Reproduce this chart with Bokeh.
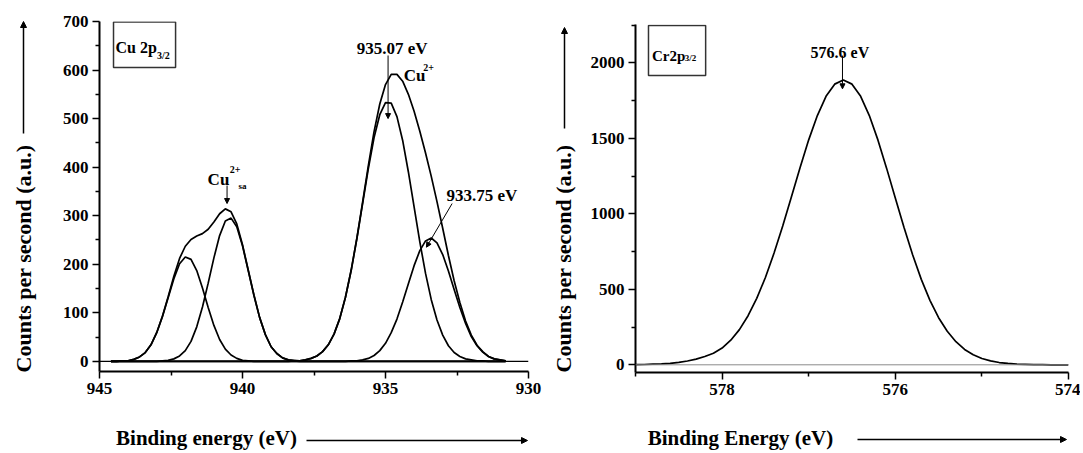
import math
from bokeh.plotting import figure
from bokeh.models import (Range1d, FixedTicker, Label, Arrow, NormalHead, Span,
                          BoxAnnotation, ColumnDataSource)
from bokeh.layouts import row, column
from bokeh.embed import file_html
from bokeh.resources import INLINE

# ---------------- data ----------------
# Cu 2p3/2 panel: binding energy grid (eV) and counts of each fitted curve
cu_energy = [944.6, 944.4, 944.2, 944.0, 943.8, 943.6, 943.4, 943.2, 943.0, 942.8,
             942.6, 942.4, 942.2, 942.0, 941.8, 941.6, 941.4, 941.2, 941.0, 940.8,
             940.6, 940.4, 940.2, 940.0, 939.8, 939.6, 939.4, 939.2, 939.0, 938.8,
             938.6, 938.4, 938.2, 938.0, 937.8, 937.6, 937.4, 937.2, 937.0, 936.8,
             936.6, 936.4, 936.2, 936.0, 935.8, 935.6, 935.4, 935.2, 935.0, 934.8,
             934.6, 934.4, 934.2, 934.0, 933.8, 933.6, 933.4, 933.2, 933.0, 932.8,
             932.6, 932.4, 932.2, 932.0, 931.8, 931.6, 931.4, 931.2, 931.0, 930.8]
cu_sat1 = [0, 0, 1, 1, 4, 9, 18, 34, 59, 92,
           131, 170, 201, 215, 210, 187, 151, 111, 74, 45,
           25, 13, 6, 2, 1, 0, 0, 0, 0, 0,
           0, 0, 0, 0, 0, 0, 0, 0, 0, 0,
           0, 0, 0, 0, 0, 0, 0, 0, 0, 0,
           0, 0, 0, 0, 0, 0, 0, 0, 0, 0,
           0, 0, 0, 0, 0, 0, 0, 0, 0, 0]
cu_sat2 = [0, 0, 0, 0, 0, 0, 0, 0, 0, 1,
           2, 5, 11, 22, 41, 71, 112, 161, 213, 259,
           289, 295, 277, 238, 187, 136, 90, 55, 30, 16,
           7, 3, 1, 0, 0, 0, 0, 0, 0, 0,
           0, 0, 0, 0, 0, 0, 0, 0, 0, 0,
           0, 0, 0, 0, 0, 0, 0, 0, 0, 0,
           0, 0, 0, 0, 0, 0, 0, 0, 0, 0]
cu_main = [0, 0, 0, 0, 0, 0, 0, 0, 0, 0,
           0, 0, 0, 0, 0, 0, 0, 0, 0, 0,
           0, 0, 0, 0, 0, 0, 0, 0, 0, 0,
           0, 0, 1, 1, 3, 6, 11, 20, 34, 56,
           88, 132, 187, 253, 325, 397, 461, 508, 533, 532,
           504, 455, 390, 318, 246, 181, 127, 85, 54, 32,
           18, 10, 5, 3, 1, 1, 0, 0, 0, 0]
cu_low = [0, 0, 0, 0, 0, 0, 0, 0, 0, 0,
          0, 0, 0, 0, 0, 0, 0, 0, 0, 0,
          0, 0, 0, 0, 0, 0, 0, 0, 0, 0,
          0, 0, 0, 0, 0, 0, 0, 0, 0, 0,
          0, 0, 1, 1, 3, 6, 12, 22, 37, 59,
          87, 122, 160, 197, 228, 248, 254, 244, 220, 186,
          148, 111, 78, 51, 32, 19, 10, 5, 3, 1]
cu_envelope = [0, 0, 1, 1, 4, 9, 18, 34, 59, 93,
               133, 175, 212, 237, 251, 258, 263, 272, 287, 304,
               314, 308, 283, 240, 188, 136, 90, 55, 30, 16,
               7, 3, 2, 1, 3, 6, 11, 20, 34, 56,
               88, 132, 188, 254, 328, 403, 473, 530, 570, 591,
               591, 577, 550, 515, 474, 429, 381, 329, 274, 218,
               166, 121, 83, 54, 33, 20, 10, 5, 3, 1]

cu_xticks = [945, 940, 935, 930]
cu_xminor = [942.5, 937.5, 932.5]
cu_yticks = [0, 100, 200, 300, 400, 500, 600, 700]
cu_yminor = [50, 150, 250, 350, 450, 550, 650]

# Cr 2p3/2 panel
cr_energy = [579.0, 578.9, 578.8, 578.7, 578.6, 578.5, 578.4, 578.3, 578.2, 578.1,
             578.0, 577.9, 577.8, 577.7, 577.6, 577.5, 577.4, 577.3, 577.2, 577.1,
             577.0, 576.9, 576.8, 576.7, 576.6, 576.5, 576.4, 576.3, 576.2, 576.1,
             576.0, 575.9, 575.8, 575.7, 575.6, 575.5, 575.4, 575.3, 575.2, 575.1,
             575.0, 574.9, 574.8, 574.7, 574.6, 574.5, 574.4, 574.3, 574.2, 574.1,
             574.0]
cr_counts = [1, 2, 4, 6, 10, 16, 25, 38, 55, 77,
             111, 163, 233, 325, 440, 578, 740, 920, 1112, 1305,
             1490, 1651, 1778, 1859, 1887, 1859, 1778, 1651, 1488, 1301,
             1105, 911, 729, 566, 427, 312, 222, 153, 102, 67,
             42, 26, 15, 9, 5, 3, 1, 1, 0, 0,
             0]

cr_xticks = [578, 576, 574]
cr_xminor = [579, 577, 575]
cr_yticks = [0, 500, 1000, 1500, 2000]
cr_yminor = [250, 750, 1250, 1750, 2250]

FONT = "Liberation Serif"


def style_axes(p, xt, xminor, yt, yminor):
    p.xaxis.ticker = FixedTicker(ticks=xt, minor_ticks=xminor)
    p.yaxis.ticker = FixedTicker(ticks=yt, minor_ticks=yminor)
    for ax in (p.xaxis, p.yaxis):
        ax.axis_line_width = 2
        ax.axis_line_color = "black"
        ax.major_tick_line_width = 1.5
        ax.major_tick_line_color = "black"
        ax.minor_tick_line_width = 1.5
        ax.minor_tick_line_color = "black"
        ax.major_tick_out = 7
        ax.major_tick_in = 0
        ax.minor_tick_out = 4
        ax.minor_tick_in = 0
        ax.major_label_text_font = FONT
        ax.major_label_text_font_style = "bold"
        ax.major_label_text_font_size = "17px"
        ax.major_label_text_color = "black"
        ax.major_label_standoff = 4
    p.xgrid.visible = False
    p.ygrid.visible = False
    p.outline_line_color = None
    p.background_fill_color = "white"
    p.border_fill_color = "white"


def lab(p, x, y, text, size, align="left", baseline="alphabetic", angle=0.0):
    p.add_layout(Label(x=x, y=y, text=text, text_font=FONT, text_font_style="bold",
                       text_font_size=size, text_color="black", text_align=align,
                       text_baseline=baseline, angle=angle))


def arr(p, x0, y0, x1, y1, size=6, width=1.2):
    p.add_layout(Arrow(end=NormalHead(size=size, fill_color="black", line_color="black",
                                      line_width=1),
                       x_start=x0, y_start=y0, x_end=x1, y_end=y1,
                       line_width=width, line_color="black"))


def blank(width, height, x0, x1, y_bottom, y_top):
    # empty plot (no axes) holding axis titles; ranges are in page pixels
    f = figure(width=width, height=height, x_range=Range1d(x0, x1),
               y_range=Range1d(y_bottom, y_top), x_axis_type=None, y_axis_type=None,
               output_backend="svg", toolbar_location=None, min_border=0)
    f.outline_line_color = None
    f.xgrid.visible = False
    f.ygrid.visible = False
    f.background_fill_color = "white"
    f.border_fill_color = "white"
    return f


LW = 1.7

# ---------------- left panel: Cu 2p3/2 ----------------
p1 = figure(frame_width=429, frame_height=350,
            x_range=Range1d(945, 930), y_range=Range1d(-21, 700),
            output_backend="svg", toolbar_location=None,
            min_border_left=49, min_border_right=17,
            min_border_top=21, min_border_bottom=35)
style_axes(p1, cu_xticks, cu_xminor, cu_yticks, cu_yminor)

src1 = ColumnDataSource(dict(e=cu_energy, s1=cu_sat1, s2=cu_sat2, m=cu_main,
                             l=cu_low, env=cu_envelope))
p1.add_layout(Span(location=0, dimension="width", line_color="black", line_width=1.2))
for col in ("s1", "s2", "m", "l", "env"):
    p1.line("e", col, source=src1, line_color="black", line_width=LW)

p1.add_layout(BoxAnnotation(left=944.51, right=942.34, bottom=605, top=699,
                            fill_alpha=0, line_color="#333333", line_alpha=1,
                            line_width=1.5))
lab(p1, 944.44, 646, "Cu 2p", "16px")
lab(p1, 942.99, 630, "3/2", "10px")

lab(p1, 934.77, 644, "935.07 eV", "17px", align="center")
arr(p1, 934.91, 630, 934.91, 500, size=5, width=1)
lab(p1, 934.36, 589, "Cu", "17px")
lab(p1, 933.68, 605, "2+", "10px")
lab(p1, 932.87, 342, "933.75 eV", "17px")
arr(p1, 932.67, 325, 933.57, 235, size=5, width=1)
lab(p1, 941.22, 375, "Cu", "17px")
lab(p1, 940.45, 395, "2+", "10px")
lab(p1, 940.14, 361, "sa", "9px")
arr(p1, 940.54, 362, 940.54, 325, size=5, width=1)

# axis titles of the left panel (page-pixel coordinates)
ya = blank(50, 450, 0, 50, 450, 0)
lab(ya, 23, 258, "Counts per second (a.u.)", "22px", align="center",
    baseline="middle", angle=math.pi / 2)
arr(ya, 23, 133, 23, 21, size=6, width=1.5)

# this strip's frame lines up with the panel frame above it (page x 99..528)
xa = blank(495, 44, 99, 528, 450, 406)
lab(xa, 206, 437, "Binding energy (eV)", "21px", align="center", baseline="middle")
arr(xa, 306, 440, 527, 440, size=6, width=1.5)

# ---------------- right panel: Cr 2p3/2 ----------------
p2 = figure(frame_width=433, frame_height=348,
            x_range=Range1d(579, 574), y_range=Range1d(-51, 2254),
            output_backend="svg", toolbar_location=None,
            min_border_left=50, min_border_right=12,
            min_border_top=24, min_border_bottom=34)
style_axes(p2, cr_xticks, cr_xminor, cr_yticks, cr_yminor)

src2 = ColumnDataSource(dict(e=cr_energy, c=cr_counts))
p2.add_layout(Span(location=0, dimension="width", line_color="#8a8a8a", line_width=1))
p2.line("e", "c", source=src2, line_color="black", line_width=LW)

p2.add_layout(BoxAnnotation(left=578.85, right=578.19, bottom=1916, top=2247,
                            fill_alpha=0, line_color="#333333", line_alpha=1,
                            line_width=1.5))
lab(p2, 578.81, 2048, "Cr2p", "15px")
lab(p2, 578.43, 2032, "3/2", "9px")

lab(p2, 576.64, 2070, "576.6 eV", "16px", align="center")
arr(p2, 576.61, 2048, 576.61, 1828, size=5, width=1)

yb = blank(40, 450, 545, 585, 450, 0)
lab(yb, 563, 258, "Counts per second (a.u.)", "22px", align="center",
    baseline="middle", angle=math.pi / 2)
arr(yb, 564, 128, 564, 27, size=6, width=1.5)

# frame of this strip lines up with the right panel frame (page x 635..1068)
xb = blank(495, 44, 635, 1068, 450, 406)
lab(xb, 740, 437, "Binding Energy (eV)", "21px", align="center", baseline="middle")
arr(xb, 857, 439, 1066, 439, size=6, width=1.5)

layout = row(ya, column(p1, xa, spacing=0), yb, column(p2, xb, spacing=0), spacing=0)
open("out.html", "w").write(file_html(layout, INLINE))
